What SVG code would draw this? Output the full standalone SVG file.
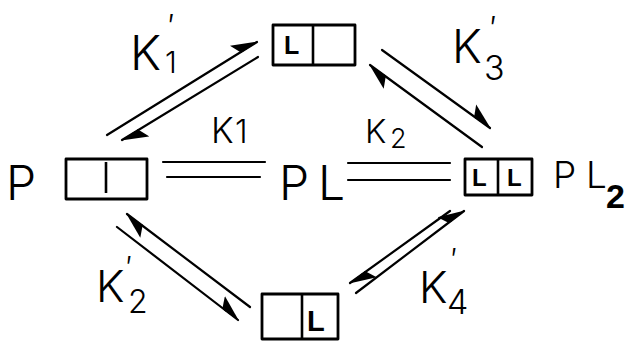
<svg xmlns="http://www.w3.org/2000/svg" width="628" height="345" viewBox="0 0 628 345">
<defs>
<style>
.bx{fill:none;stroke:#000;stroke-width:2.8;stroke-linejoin:round}
.dv{stroke:#000;stroke-width:2.6}
.ln{fill:none;stroke:#000;stroke-width:2.2;stroke-linecap:round}
.t{font-family:"Inter","Liberation Sans",sans-serif;font-weight:300;fill:#000}
.c{font-family:"Liberation Sans",sans-serif;font-weight:bold;fill:#000}
</style>
<marker id="h" markerUnits="userSpaceOnUse" viewBox="0 0 26 13" markerWidth="26" markerHeight="13" refX="25" refY="12" orient="auto">
<path d="M26,12 L0,1 L6,13 Z" fill="#000"/>
</marker>
</defs>
<rect width="628" height="345" fill="#fff"/>
<g id="connectors">
<line class="ln" x1="163" y1="162" x2="265" y2="162"/>
<line class="ln" x1="167" y1="177" x2="260" y2="177"/>
<line class="ln" x1="348" y1="163" x2="450" y2="163"/>
<line class="ln" x1="348" y1="180" x2="450" y2="180"/>
<line class="ln" x1="107" y1="135" x2="257" y2="42" marker-end="url(#h)"/>
<line class="ln" x1="258" y1="57" x2="122" y2="140" marker-end="url(#h)"/>
<line class="ln" x1="382" y1="50" x2="490" y2="128" marker-end="url(#h)"/>
<line class="ln" x1="482" y1="147" x2="370" y2="65" marker-end="url(#h)"/>
<line class="ln" x1="250" y1="307" x2="127" y2="214" marker-end="url(#h)"/>
<line class="ln" x1="117" y1="227" x2="238" y2="320" marker-end="url(#h)"/>
<line class="ln" x1="450" y1="211" x2="350" y2="283" marker-end="url(#h)"/>
<line class="ln" x1="356" y1="293" x2="464" y2="211" marker-end="url(#h)"/>
</g>
<g id="labels">
<text class="t" x="130" y="70" font-size="48">K</text>
<text class="t" x="165" y="73" font-size="30">1</text>
<text class="t" x="168" y="38" font-size="32">′</text>
<text class="t" x="452" y="63" font-size="46">K</text>
<text class="t" x="484" y="80" font-size="34">3</text>
<text class="t" x="490" y="40" font-size="32">′</text>
<text class="t" x="96" y="302" font-size="44">K</text>
<text class="t" x="128" y="313" font-size="32">2</text>
<text class="t" x="126" y="278" font-size="30">′</text>
<text class="t" x="419" y="303" font-size="44">K</text>
<text class="t" x="447" y="314" font-size="34">4</text>
<text class="t" x="451" y="270" font-size="30">′</text>
<text class="t" x="211" y="143" font-size="35">K</text>
<text class="t" x="235" y="143" font-size="32">1</text>
<text class="t" x="365" y="143" font-size="33">K</text>
<text class="t" x="390" y="148" font-size="27">2</text>
</g>
<g id="P">
<text class="t" x="6" y="200" font-size="48">P</text>
<rect class="bx" x="66" y="159" width="81" height="40"/>
<line class="dv" x1="106" y1="162" x2="106" y2="193" stroke-width="3.5"/>
</g>
<g id="PL">
<text class="t" x="279" y="200" font-size="48">P<tspan x="318">L</tspan></text>
</g>
<g id="PL2">
<rect class="bx" x="465" y="159" width="67" height="36"/>
<line class="dv" x1="498" y1="159" x2="498" y2="195"/>
<text class="c" x="472" y="186" font-size="24">L</text>
<text class="c" x="507" y="186" font-size="24">L</text>
<text class="t" x="553" y="188" font-size="37">P<tspan x="586">L</tspan></text>
<text class="c" x="606" y="208" font-size="34">2</text>
</g>
<g id="PL_top">
<rect class="bx" x="273" y="25" width="82" height="40"/>
<line class="dv" x1="313" y1="25" x2="313" y2="65"/>
<text class="c" x="284" y="54" font-size="25">L</text>
</g>
<g id="PL_bottom">
<rect class="bx" x="262" y="294" width="76" height="45"/>
<line class="dv" x1="302" y1="294" x2="302" y2="339"/>
<text class="c" x="307" y="331" font-size="29">L</text>
</g>
</svg>
